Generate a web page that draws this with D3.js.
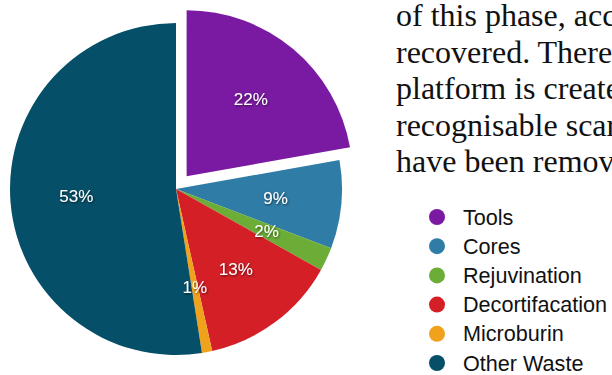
<!DOCTYPE html>
<html>
<head>
<meta charset="utf-8">
<script src="https://cdn.jsdelivr.net/npm/d3@7"></script>
<style>
  html, body { margin: 0; padding: 0; background: #fff; overflow: hidden; }
</style>
</head>
<body>
<script>
// Data
const categories = ["Tools", "Cores", "Rejuvination", "Decortifacation", "Microburin", "Other Waste"]
const shares = [22.2, 8.6, 2.3, 13.4, 1.0, 52.5]
const colors = ["#7a1aa3", "#2f7ca6", "#6cad37", "#d41f26", "#f0a21c", "#064f68"]
const explodedCategory = "Tools"
// Only the part of the body text that the picture shows
const textLines = [
    "of this phase, acc",
    "recovered. There",
    "platform is create",
    "recognisable scar",
    "have been remov"
]

// Main
let main = () => {
    const width = 612
    const height = 375
    const cx = 176
    const cy = 189
    const radius = 166
    const labelRadius = 100
    const explode = 16.5

    let svg = d3.select("body")
        .append("svg")
        .attr("width", width)
        .attr("height", height)

    // Drop shadow for slice labels
    svg.append("defs").append("filter")
        .attr("id", "labelShadow")
        .attr("x", "-20%").attr("y", "-20%")
        .attr("width", "140%").attr("height", "140%")
        .append("feDropShadow")
        .attr("dx", 0.8).attr("dy", 1)
        .attr("stdDeviation", 0.8)
        .attr("flood-color", "#000")
        .attr("flood-opacity", 0.6)

    let color = d3.scaleOrdinal().domain(categories).range(colors)
    let total = d3.sum(shares)
    let data = categories.map((c, i) => ({ name: c, value: shares[i] }))

    let pie = d3.pie().sort(null).value(d => d.value)
    let arc = d3.arc().innerRadius(0).outerRadius(radius)
    let labelArc = d3.arc().innerRadius(labelRadius).outerRadius(labelRadius)
    let arcs = pie(data)

    let offset = d => {
        if (d.data.name !== explodedCategory) return [0, 0]
        let mid = (d.startAngle + d.endAngle) / 2
        return [explode * Math.sin(mid), -explode * Math.cos(mid)]
    }

    let g = svg.append("g").attr("transform", `translate(${cx}, ${cy})`)

    // Slices
    g.selectAll(".slice")
        .data(arcs).enter().append("path")
        .attr("class", "slice")
        .attr("d", arc)
        .attr("transform", d => `translate(${offset(d)})`)
        .attr("fill", d => color(d.data.name))

    // Percentage labels
    g.selectAll(".sliceLabel")
        .data(arcs).enter().append("text")
        .attr("class", "sliceLabel")
        .attr("transform", d => {
            let [x, y] = labelArc.centroid(d)
            let [ox, oy] = offset(d)
            return `translate(${x + ox}, ${y + oy})`
        })
        .attr("text-anchor", "middle")
        .attr("dominant-baseline", "central")
        .attr("fill", "#fff")
        .attr("filter", "url(#labelShadow)")
        .style("font-family", "'Liberation Sans', Arial, Helvetica, sans-serif")
        .style("font-size", "17px")
        .text(d => Math.round(d.data.value / total * 100) + "%")

    // Body text (cut off at the right edge, as in the page it came from)
    svg.selectAll(".bodyLine")
        .data(textLines).enter().append("text")
        .attr("class", "bodyLine")
        .attr("x", 396)
        .attr("y", (d, i) => 26 + i * 36.5)
        .attr("fill", "#111")
        .style("font-family", "'Liberation Serif', 'Times New Roman', serif")
        .style("font-size", "32px")
        .text(d => d)

    // Legend
    let legend = svg.selectAll(".legendItem")
        .data(categories).enter().append("g")
        .attr("class", "legendItem")
        .attr("transform", (d, i) => `translate(437, ${217 + i * 29.2})`)
    legend.append("circle")
        .attr("r", 8)
        .attr("fill", d => color(d))
    legend.append("text")
        .attr("x", 26)
        .attr("dominant-baseline", "central")
        .attr("fill", "#111")
        .style("font-family", "'Liberation Sans', Arial, Helvetica, sans-serif")
        .style("font-size", "21.6px")
        .text(d => d)
}

main()
</script>
</body>
</html>
